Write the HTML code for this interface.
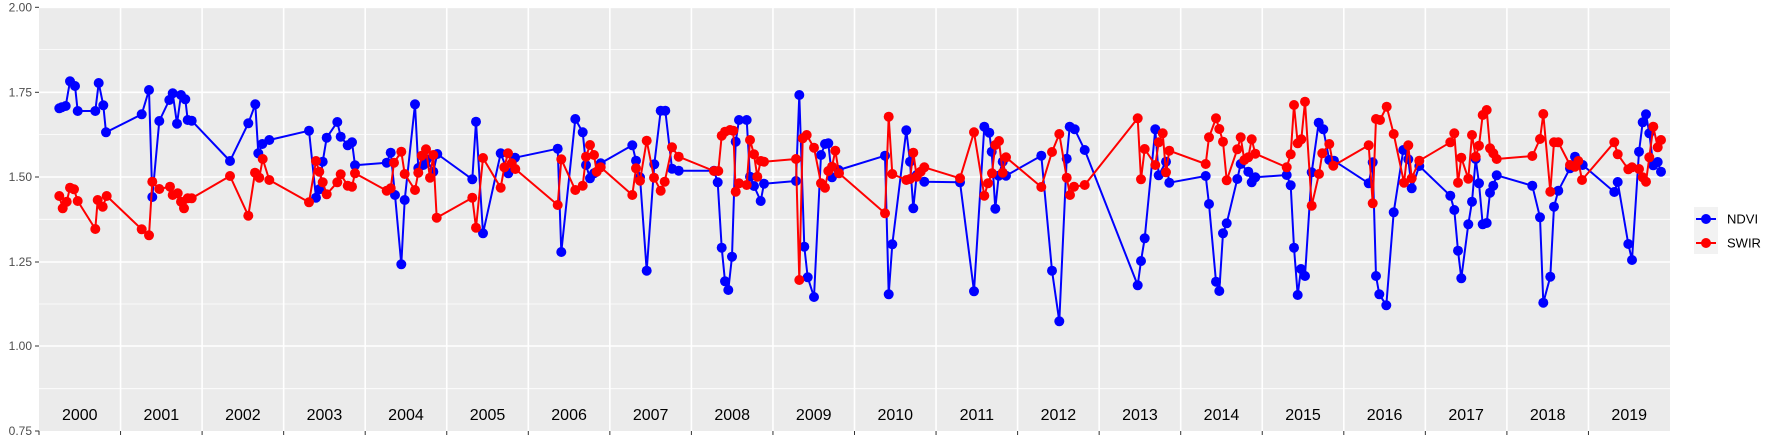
<!DOCTYPE html>
<html><head><meta charset="utf-8"><style>
html,body{margin:0;padding:0;background:#fff;}
svg{display:block;font-family:"Liberation Sans",sans-serif;}
</style></head><body>
<svg id="s" width="1773" height="442" viewBox="0 0 1773 442" xmlns="http://www.w3.org/2000/svg">
<rect x="39" y="6.5" width="1631" height="424.5" fill="#ebebeb"/>
<g id="grid"></g>
<g id="series"></g>
<g id="labels" font-size="12" fill="#4d4d4d" text-anchor="end">
<text x="32" y="11.5">2.00</text><text x="32" y="96.5">1.75</text><text x="32" y="181.2">1.50</text>
<text x="32" y="266.2">1.25</text><text x="32" y="350.2">1.00</text><text x="32" y="435.2">0.75</text>
</g>
<rect x="1694" y="207" width="24" height="47" fill="#f2f2f2"/>
<line x1="1696" y1="219" x2="1716" y2="219" stroke="#0000ff" stroke-width="2"/>
<circle cx="1706" cy="219" r="5" fill="#0000ff"/>
<line x1="1696" y1="243" x2="1716" y2="243" stroke="#ff0000" stroke-width="2"/>
<circle cx="1706" cy="243" r="5" fill="#ff0000"/>
<text x="1727" y="223.5" font-size="13" fill="#000">NDVI</text>
<text x="1727" y="247.5" font-size="13" fill="#000">SWIR</text>
</svg>
<script>
var NS="http://www.w3.org/2000/svg";
function el(t,a,p){var e=document.createElementNS(NS,t);for(var k in a)e.setAttribute(k,a[k]);p.appendChild(e);return e;}
var g=document.getElementById('grid');
var minors=[49.6,134.6,219.3,304,388.7],majors=[7.3,92.3,177,262,346];
minors.forEach(function(y){el('line',{x1:39,x2:1670,y1:y,y2:y,stroke:'#fff','stroke-width':0.8},g);});
majors.forEach(function(y){el('line',{x1:39,x2:1670,y1:y,y2:y,stroke:'#fff','stroke-width':1.6},g);});
[7.3,92.3,177,262,346,431].forEach(function(y){el('line',{x1:35,x2:39,y1:y,y2:y,stroke:'#333','stroke-width':1},g);});
var sp=(1670-39)/20;
for(var k=0;k<20;k++){
  var x=39+k*sp;
  if(k>0){el('line',{x1:x,x2:x,y1:6.5,y2:431,stroke:'#fff','stroke-width':1.6},g);}
  el('line',{x1:x,x2:x,y1:431,y2:435,stroke:'#333','stroke-width':1},g);
  var t=el('text',{x:39+(k+0.5)*sp,y:420,'font-size':16,'text-anchor':'middle',fill:'#000'},g);
  t.textContent=String(2000+k);
}
var B=[
[0,0,[[178,325],[185,322],[197,318],[210,244],[225,258],[233,333],[286,333],[296,249],[310,316],[318,397],[425,343],[447,270],[457,591],[478,363],[508,300],[518,280],[531,371],[543,285],[556,298],[563,360],[575,362],[690,483],[745,370],[766,313],[775,460],[787,432],[808,420],[927,392],[948,593],[958,568],[968,485],[980,413],[1012,366],[1022,410],[1043,436],[1056,427],[1065,496],[1160,488],[1172,458],[1185,585],[1204,793],[1214,600],[1245,313],[1255,504],[1270,495],[1280,478],[1300,515],[1312,462]]],
[440,60,[[97,358],[108,185],[129,520],[182,280],[205,340],[225,293],[353,266],[364,576],[406,177],[428,217],[438,315],[450,355],[462,340],[482,310],[577,256],[588,302],[600,352],[620,632],[643,313],[662,152],[676,152],[696,326],[716,332],[822,332],[833,367],[845,563],[855,664],[865,690],[876,590],[887,245],[897,180],[920,180],[930,350],[942,378],[962,423],[972,371],[1068,363],[1078,105],[1093,560],[1103,652],[1122,711],[1143,285],[1155,252],[1165,250],[1176,352],[1196,330]]],
[850,60,[[105,287],[116,703],[127,553],[169,211],[180,305],[190,445],[200,345],[223,365],[330,367],[372,694],[403,200],[418,218],[425,275],[436,446],[446,347],[458,305],[468,347],[574,287],[606,632],[628,784],[650,296],[659,200],[674,208],[704,270],[863,676],[873,603],[884,535],[916,208],[926,346],[948,305],[958,368],[1067,348],[1077,432],[1098,665],[1108,693],[1119,520],[1130,490],[1162,357],[1172,312],[1195,335],[1205,367],[1216,352]]],
[1260,60,[[80,345],[92,376],[102,563],[113,705],[123,627],[135,648],[155,337],[176,188],[190,208],[208,300],[222,302],[326,370],[338,307],[348,648],[358,703],[379,736],[401,457],[430,270],[445,298],[455,385],[478,318],[571,407],[583,450],[594,572],[604,655],[625,493],[636,425],[647,297],[657,370],[668,493],[680,489],[690,398],[700,377],[710,346],[817,377],[840,472],[850,728],[871,650],[882,440],[895,392],[930,325],[945,290],[968,315],[1063,396],[1073,366],[1105,552],[1116,600],[1137,275],[1148,187],[1158,163],[1168,220],[1180,316],[1193,306],[1203,335]]]
];
var R=[
[0,0,[[178,588],[188,625],[200,605],[210,563],[222,568],[233,603],[286,687],[293,600],[308,620],[320,588],[425,688],[447,706],[457,545],[478,567],[510,560],[518,585],[533,580],[543,605],[552,625],[563,595],[575,595],[690,528],[745,647],[765,518],[778,533],[788,477],[808,540],[927,607],[948,483],[958,515],[968,547],[980,583],[1012,547],[1022,523],[1043,557],[1056,560],[1065,520],[1160,572],[1172,565],[1182,488],[1204,455],[1214,522],[1245,570],[1255,518],[1265,467],[1278,448],[1290,533],[1300,465],[1310,653]]],
[440,60,[[97,413],[108,503],[129,294],[182,383],[193,322],[204,280],[215,310],[226,327],[353,435],[364,298],[406,390],[428,377],[438,290],[450,255],[462,285],[470,335],[482,322],[577,405],[588,325],[600,362],[620,242],[642,353],[662,392],[674,365],[696,262],[716,290],[822,333],[835,333],[845,227],[855,215],[870,210],[880,212],[887,395],[897,370],[920,375],[930,240],[942,283],[952,350],[962,303],[972,305],[1068,297],[1078,660],[1088,235],[1100,225],[1122,263],[1143,370],[1155,383],[1165,333],[1176,320],[1186,272],[1197,340]]],
[850,60,[[105,460],[116,170],[127,342],[169,360],[180,357],[190,278],[200,350],[212,335],[223,322],[330,355],[372,217],[403,407],[414,370],[426,340],[436,255],[447,243],[458,338],[468,292],[574,381],[606,276],[628,222],[650,353],[660,405],[672,380],[704,375],[863,175],[873,358],[884,267],[916,315],[926,247],[938,220],[948,337],[958,272],[1067,312],[1077,232],[1098,175],[1108,207],[1119,245],[1130,361],[1162,268],[1172,232],[1183,300],[1195,292],[1205,238],[1216,281]]],
[1260,60,[[80,322],[92,283],[102,135],[113,250],[124,238],[135,125],[155,437],[177,342],[187,280],[208,252],[220,317],[326,256],[338,430],[348,177],[360,180],[380,140],[401,222],[432,368],[445,256],[455,355],[478,302],[571,247],[583,220],[594,368],[604,293],[625,356],[636,225],[647,290],[657,257],[668,165],[680,150],[690,265],[700,280],[710,297],[817,288],[840,237],[850,162],[871,395],[882,247],[895,247],[930,315],[945,320],[955,303],[966,360],[1063,247],[1073,283],[1105,328],[1116,322],[1137,327],[1148,352],[1158,365],[1168,292],[1180,200],[1193,262],[1203,240]]]
];
function flat(S){var o=[];S.forEach(function(s){s[2].forEach(function(p){o.push([s[0]+p[0]/3,s[1]+p[1]/3]);});});return o;}
var sg=document.getElementById('series');
function draw(S,c){
  var pts=flat(S);
  el('polyline',{points:pts.map(function(p){return p[0].toFixed(1)+','+p[1].toFixed(1);}).join(' '),fill:'none',stroke:c,'stroke-width':2,'stroke-linejoin':'round'},sg);
  pts.forEach(function(p){el('circle',{cx:p[0].toFixed(1),cy:p[1].toFixed(1),r:5,fill:c},sg);});
}
draw(B,'#0000ff');draw(R,'#ff0000');
</script>
</body></html>
